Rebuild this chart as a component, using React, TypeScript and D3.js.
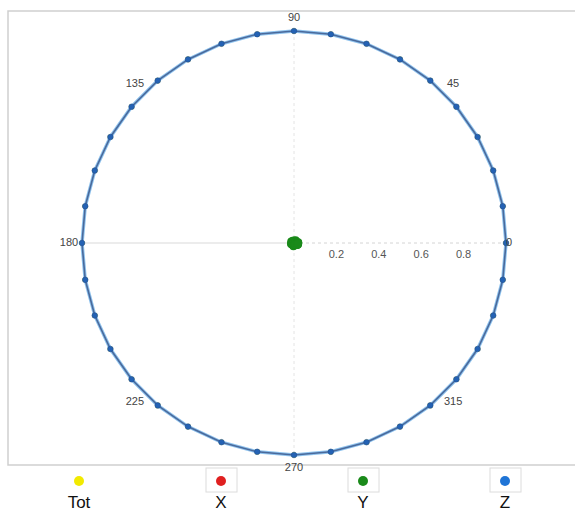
// App.tsx
import React from 'react'
import * as d3 from 'd3'

// polar angles of the samples, degrees counter-clockwise from east
const angles = [
  0, 10, 20, 30, 40, 50, 60, 70, 80, 90, 100, 110, 120, 130, 140, 150, 160, 170,
  180, 190, 200, 210, 220, 230, 240, 250, 260, 270, 280, 290, 300, 310, 320, 330, 340, 350,
]
const totValues = [
  1, 1, 1, 1, 1, 1, 1, 1, 1, 1, 1, 1, 1, 1, 1, 1, 1, 1,
  1, 1, 1, 1, 1, 1, 1, 1, 1, 1, 1, 1, 1, 1, 1, 1, 1, 1,
]
const xValues = [
  0.01, 0.01, 0.01, 0.01, 0.01, 0.01, 0.01, 0.01, 0.01, 0.01, 0.01, 0.01, 0.01, 0.01, 0.01, 0.01, 0.01, 0.01,
  0.01, 0.01, 0.01, 0.01, 0.01, 0.01, 0.01, 0.01, 0.01, 0.01, 0.01, 0.01, 0.01, 0.01, 0.01, 0.01, 0.01, 0.01,
]
const yValues = [
  0.02, 0.02, 0.015, 0.01, 0.01, 0.012, 0.015, 0.01, 0.008, 0.01, 0.012, 0.01, 0.008, 0.01, 0.012, 0.015, 0.012, 0.01,
  0.01, 0.012, 0.015, 0.012, 0.01, 0.008, 0.01, 0.012, 0.015, 0.012, 0.01, 0.008, 0.01, 0.012, 0.015, 0.018, 0.02, 0.02,
]
const zValues = [
  1, 1, 1, 1, 1, 1, 1, 1, 1, 1, 1, 1, 1, 1, 1, 1, 1, 1,
  1, 1, 1, 1, 1, 1, 1, 1, 1, 1, 1, 1, 1, 1, 1, 1, 1, 1,
]
const angleTicks = [0, 45, 90, 135, 180, 225, 270, 315]
const radiusTicks = [0.2, 0.4, 0.6, 0.8]
const legendNames = ['Tot', 'X', 'Y', 'Z']
const legendColors = ['#f2ea00', '#e02020', '#1a8a1a', '#1f74d6']

const W = 575
const H = 517
const cx = 294
const cy = 243
const R = 212

type Pt = { a: number; r: number }

export default function App() {
  const r = d3.scaleLinear().domain([0, 1]).range([0, R])
  const toRad = (deg: number) => (deg * Math.PI) / 180
  const px = (a: number, v: number) => cx + r(v) * Math.cos(toRad(a))
  const py = (a: number, v: number) => cy - r(v) * Math.sin(toRad(a))

  const line = d3
    .lineRadial<Pt>()
    .angle(d => Math.PI / 2 - toRad(d.a))
    .radius(d => r(d.r))
    .curve(d3.curveLinearClosed)

  const series = [totValues, xValues, yValues, zValues].map(vals =>
    angles.map((a, i) => ({ a, r: vals[i] }))
  )

  const legendX = d3.scalePoint<string>().domain(legendNames).range([79, 505])

  return (
    <svg
      width={W}
      height={H}
      style={{ position: 'absolute', left: 0, top: 0, background: '#fff' }}
      fontFamily="Liberation Sans, Arial, sans-serif"
    >
      {/* plot frame */}
      <path d={`M${W},11 H8 V465 H${W}`} fill="none" stroke="#cfcfcf" strokeWidth={1.5} />

      {/* grid axes */}
      <line x1={px(180, 1)} y1={cy} x2={cx} y2={cy} stroke="#dadada" strokeWidth={1.2} />
      <line x1={cx} y1={cy} x2={px(0, 1)} y2={cy} stroke="#d4d4d4" strokeDasharray="3,3" />
      <line x1={cx} y1={py(90, 1)} x2={cx} y2={py(270, 1)} stroke="#e4e4e4" strokeDasharray="3,3" />

      {radiusTicks.map(t => (
        <text key={t} x={cx + r(t)} y={cy + 15} fontSize={11} fill="#555" textAnchor="middle">
          {t}
        </text>
      ))}

      {/* series */}
      {series.map((pts, si) => (
        <g key={si}>
          {si === 3 && (
            <>
              <path
                d={line(pts) ?? ''}
                transform={`translate(${cx},${cy})`}
                fill="none"
                stroke="#8fc3ee"
                strokeWidth={3.5}
              />
              <path
                d={line(pts) ?? ''}
                transform={`translate(${cx},${cy})`}
                fill="none"
                stroke="#4a6a9c"
                strokeWidth={1.6}
              />
            </>
          )}
          {pts.map((p, i) => (
            <circle
              key={i}
              cx={px(p.a, p.r)}
              cy={py(p.a, p.r)}
              r={si === 2 ? 4 : 2.8}
              fill={si === 3 ? '#2462b4' : legendColors[si]}
              stroke={si === 3 ? '#1e4f95' : 'none'}
              strokeWidth={0.6}
            />
          ))}
        </g>
      ))}

      {/* angle labels */}
      {angleTicks.map(a => {
        const off = a === 0 ? 3 : 13
        return (
          <text
            key={a}
            x={cx + (R + off) * Math.cos(toRad(a))}
            y={cy - (R + off) * Math.sin(toRad(a))}
            fontSize={11}
            fill="#444"
            textAnchor="middle"
            dominantBaseline="middle"
          >
            {a}
          </text>
        )
      })}

      {/* legend */}
      {legendNames.map((n, i) => {
        const x = legendX(n) ?? 0
        return (
          <g key={n}>
            {i > 0 && (
              <rect x={x - 15} y={468} width={31} height={24} fill="none" stroke="#dcdcdc" />
            )}
            <circle cx={x} cy={481} r={5} fill={legendColors[i]} />
            <text x={x} y={508} fontSize={17} fill="#111" textAnchor="middle">
              {n}
            </text>
          </g>
        )
      })}
    </svg>
  )
}
